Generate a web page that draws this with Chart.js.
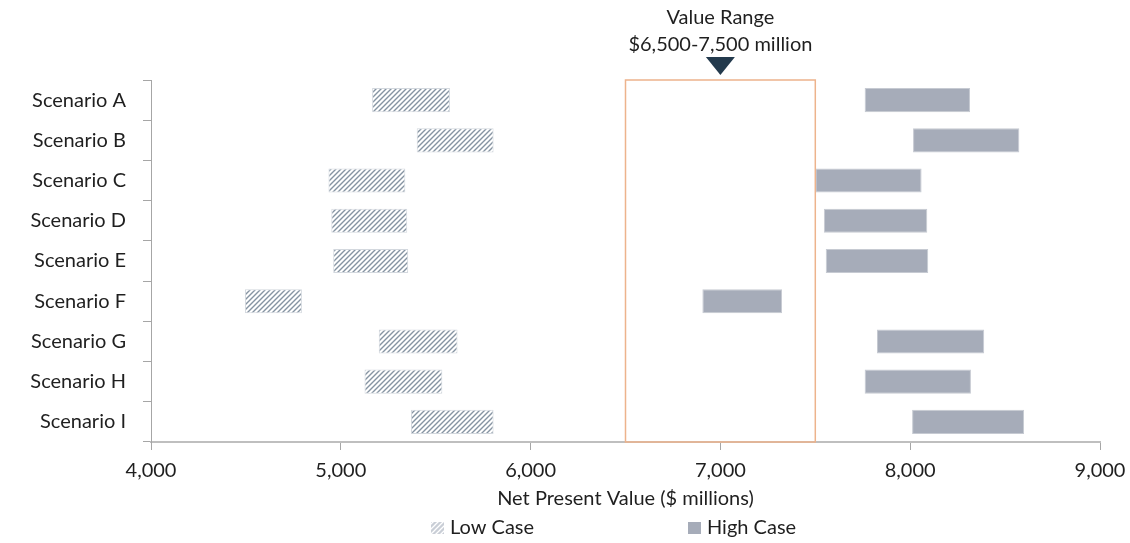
<!DOCTYPE html>
<html>
<head>
<meta charset="utf-8">
<script src="https://cdn.jsdelivr.net/npm/chart.js@4.4.0/dist/chart.umd.min.js"></script>
<style>
  html, body { margin: 0; padding: 0; background: #ffffff; }
  #wrap { position: relative; width: 1130px; height: 543px; }
</style>
</head>
<body>
<div id="wrap"><canvas id="c" width="1130" height="543"></canvas></div>
<script>
// ---------------- data ----------------
const categories = ['Scenario A', 'Scenario B', 'Scenario C', 'Scenario D', 'Scenario E',
                    'Scenario F', 'Scenario G', 'Scenario H', 'Scenario I'];
const lowCaseStart  = [5165, 5400, 4935, 4950, 4960, 4495, 5200, 5125, 5370];
const lowCaseEnd    = [5575, 5805, 5340, 5350, 5355, 4795, 5615, 5535, 5805];
const highCaseStart = [7760, 8015, 7500, 7545, 7555, 6905, 7825, 7760, 8010];
const highCaseEnd   = [8315, 8575, 8060, 8090, 8095, 7325, 8390, 8320, 8600];
const seriesNames = ['Low Case', 'High Case'];
const xTickMin = 4000;
const xTickMax = 9000;
const xTickStep = 1000;
const xAxisTitle = 'Net Present Value ($ millions)';
const valueRange = [6500, 7500];
const valueMarker = 7000;
const valueRangeLabel = ['Value Range', '$6,500-7,500 million'];

// ---------------- styles ----------------
const FONT = 'Lato';
const TEXT = '#1f1f1f';
const FS = 20;

function makeHatch(bg, fg, size, lw) {
  const c = document.createElement('canvas');
  c.width = c.height = size;
  const g = c.getContext('2d');
  g.fillStyle = bg; g.fillRect(0, 0, size, size);
  g.strokeStyle = fg; g.lineWidth = lw;
  g.beginPath();
  g.moveTo(0, size); g.lineTo(size, 0);
  g.moveTo(-1, 1); g.lineTo(1, -1);
  g.moveTo(size - 1, size + 1); g.lineTo(size + 1, size - 1);
  g.stroke();
  return g.createPattern(c, 'repeat');
}
const ctx0 = document.getElementById('c').getContext('2d');
const hatch = makeHatch('#ffffff', '#8694a2', 5, 1.4);
const hatchLegend = makeHatch('#c9ced6', '#ffffff', 5, 1.3);
const highColor = '#A6ACB9';

// value range annotation
const valueRangePlugin = {
  id: 'valueRange',
  afterDatasetsDraw(chart) {
    const {ctx, chartArea} = chart;
    const xs = chart.scales.x;
    const x0 = xs.getPixelForValue(valueRange[0]);
    const x1 = xs.getPixelForValue(valueRange[1]);
    const xm = xs.getPixelForValue(valueMarker);
    ctx.save();
    ctx.strokeStyle = '#EDB38C';
    ctx.lineWidth = 1.5;
    ctx.strokeRect(x0, chartArea.top, x1 - x0, chartArea.bottom - chartArea.top);
    // marker triangle
    ctx.fillStyle = '#233A4D';
    ctx.beginPath();
    ctx.moveTo(xm - 14.5, chartArea.top - 23);
    ctx.lineTo(xm + 14.5, chartArea.top - 23);
    ctx.lineTo(xm, chartArea.top - 5);
    ctx.closePath();
    ctx.fill();
    // label
    ctx.fillStyle = TEXT;
    ctx.font = FS + 'px ' + FONT;
    ctx.textAlign = 'center';
    ctx.textBaseline = 'middle';
    ctx.fillText(valueRangeLabel[0], xm, 18);
    ctx.fillText(valueRangeLabel[1], xm, 45);
    ctx.restore();
  }
};

// custom bottom legend
const legendPlugin = {
  id: 'customLegend',
  afterDraw(chart) {
    const {ctx} = chart;
    const starts = [431, 688];
    const y = 528;
    ctx.save();
    ctx.font = FS + 'px ' + FONT;
    ctx.textBaseline = 'middle';
    ctx.textAlign = 'left';
    chart.data.datasets.forEach((ds, i) => {
      const sx = starts[i];
      ctx.fillStyle = i === 0 ? hatchLegend : ds.backgroundColor;
      ctx.fillRect(sx, y - 6, 13, 12);
      ctx.fillStyle = TEXT;
      ctx.fillText(ds.label, sx + 19, y);
    });
    ctx.restore();
  }
};

new Chart(document.getElementById('c'), {
  type: 'bar',
  data: {
    labels: categories,
    datasets: [
      {
        label: seriesNames[0],
        data: categories.map((c, i) => [lowCaseStart[i], lowCaseEnd[i]]),
        backgroundColor: hatch,
        borderColor: '#D3D8DE',
        borderWidth: 1,
        borderSkipped: false,
        grouped: false,
        barPercentage: 0.6,
        categoryPercentage: 1
      },
      {
        label: seriesNames[1],
        data: categories.map((c, i) => [highCaseStart[i], highCaseEnd[i]]),
        backgroundColor: highColor,
        borderColor: '#C6CAD2',
        borderWidth: 1,
        borderSkipped: false,
        grouped: false,
        barPercentage: 0.6,
        categoryPercentage: 1
      }
    ]
  },
  options: {
    indexAxis: 'y',
    responsive: false,
    animation: false,
    devicePixelRatio: 1,
    layout: { padding: { top: 80, right: 30, bottom: 0, left: 0 } },
    plugins: { legend: { display: false }, tooltip: { enabled: false } },
    scales: {
      x: {
        type: 'linear',
        min: xTickMin,
        max: xTickMax,
        ticks: {
          stepSize: xTickStep,
          padding: 9,
          color: TEXT,
          font: { family: FONT, size: FS },
          callback: v => Number(v).toLocaleString('en-US')
        },
        grid: { drawOnChartArea: false, drawTicks: true, tickLength: 8, color: '#A6A6A6' },
        border: { display: true, color: '#BFBFBF', width: 2 },
        title: {
          display: true,
          text: xAxisTitle,
          color: TEXT,
          font: { family: FONT, size: FS },
          padding: { top: 0, bottom: 32 }
        },
        afterFit: s => { s.height = 101; s.paddingRight = 0; s.paddingLeft = 0; }
      },
      y: {
        type: 'category',
        offset: true,
        ticks: { padding: 17, color: TEXT, font: { family: FONT, size: FS } },
        grid: { offset: true, drawOnChartArea: false, drawTicks: true, tickLength: 8, color: '#A6A6A6' },
        border: { display: true, color: '#A6A6A6', width: 1 },
        afterFit: s => { s.width = 151; }
      }
    }
  },
  plugins: [valueRangePlugin, legendPlugin]
});
</script>
</body>
</html>
